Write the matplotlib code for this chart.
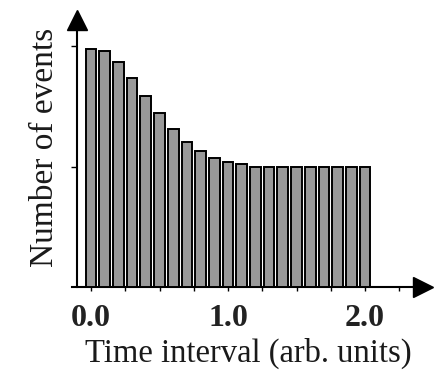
import matplotlib.pyplot as plt
from matplotlib.ticker import MultipleLocator

# histogram of time intervals (arb. units)
bin_centers = [0.0, 0.1, 0.2, 0.3, 0.4, 0.5, 0.6, 0.7, 0.8, 0.9, 1.0,
               1.1, 1.2, 1.3, 1.4, 1.5, 1.6, 1.7, 1.8, 1.9, 2.0]
counts = [1.978, 1.959, 1.867, 1.737, 1.592, 1.447, 1.315, 1.205, 1.130,
          1.075, 1.040, 1.024, 1.0, 1.0, 1.0, 1.0, 1.0, 1.0, 1.0, 1.0, 1.0]
xtick_labels = ["0.0", "1.0", "2.0"]

plt.rcParams['font.family'] = ['Liberation Serif', 'DejaVu Serif']

fig = plt.figure(figsize=(4.35, 3.71), dpi=100)
W, H = 435, 371
# axes box in pixels: left 72, right 423, bottom 287 (from top), top 20
ax = fig.add_axes([72 / W, (H - 287) / H, (423 - 72) / W, (287 - 20) / H])

ax.bar(bin_centers, counts, width=0.078, color='#999999',
       edgecolor='black', linewidth=1.4, zorder=3)

x0 = -0.102  # where the vertical axis sits
ax.set_xlim(-0.1387, 2.423)
ax.set_ylim(0, 2.22)

for s in ['top', 'right']:
    ax.spines[s].set_visible(False)
ax.spines['left'].set_position(('data', x0))
ax.spines['left'].set_linewidth(1.5)
ax.spines['bottom'].set_linewidth(1.5)

# arrow heads
ax.plot(1, 0, ">k", ms=14, transform=ax.get_yaxis_transform(), clip_on=False)
ax.plot(x0, 1, "^k", ms=14, transform=ax.get_xaxis_transform(), clip_on=False)

ax.set_xticks([0, 1, 2])
ax.set_xticklabels(xtick_labels, fontsize=23, fontweight='bold', color='#222222')
ax.xaxis.set_minor_locator(MultipleLocator(0.25))
ax.tick_params(axis='x', which='both', direction='out', length=3, width=1, pad=9)
ax.set_yticks([1, 2])
ax.set_yticklabels([])
ax.tick_params(axis='y', direction='out', length=4, width=1)

ax.set_xlabel("Time interval (arb. units)", fontsize=23.5, color='#1a1a1a')
ax.xaxis.set_label_coords(0.501, -0.192)
ax.set_ylabel("Number of events", fontsize=24, color='#1a1a1a')
ax.yaxis.set_label_coords(-0.035, 0.524)

fig.savefig("out.png", dpi=100)
